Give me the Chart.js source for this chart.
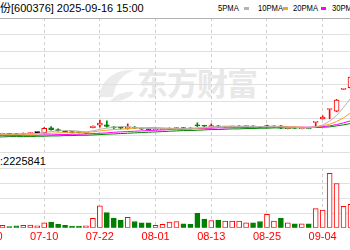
<!DOCTYPE html>
<html>
<head>
<meta charset="utf-8">
<script src="https://cdn.jsdelivr.net/npm/chart.js@4.4.0/dist/chart.umd.min.js"></script>
<style>
  html, body { margin: 0; padding: 0; width: 350px; height: 250px; overflow: hidden; background: #fff; }
  body { position: relative; font-family: "Liberation Sans", Arial, "Noto Sans CJK SC", sans-serif; }
  .txt { position: absolute; font-size: 11px; line-height: 13px; color: #000; white-space: nowrap; }
  .lg { position: absolute; top: 2px; font-size: 9px; line-height: 13px; color: #000; white-space: nowrap;
        transform: scaleX(0.85); transform-origin: 0 0; }
  .sw { position: absolute; top: 7px; width: 5px; height: 3px; }
  #wm { position: absolute; left: 137px; top: 59px; font: bold 31px "Noto Sans CJK SC"; color: #e8e8e8; white-space: nowrap; letter-spacing: -1px; }
  #logo { position: absolute; left: 96px; top: 66px; }
  #k { position: absolute; left: -15px; top: 0; }
  #v { position: absolute; left: -15px; top: 152px; }
</style>
</head>
<body>
<svg id="logo" width="40" height="36" viewBox="0 0 40 36">
  <path d="M3 31 C 5 13, 20 3, 38 4 C 26 9, 19 17, 17 31 Z" fill="#ebebeb"/>
  <path d="M14 35 C 22 27, 30 25, 38 26 C 34 32, 25 36, 14 35 Z" fill="#ebebeb"/>
</svg>
<div id="wm">东方财富</div>
<div class="txt" style="left:-33px;top:2px">首开股份[600376] 2025-09-16 15:00</div>
<div class="lg" style="left:218px">5PMA</div>
<div class="sw" style="left:244px;background:#b4b4b4"></div>
<div class="lg" style="left:258px">10PMA</div>
<div class="sw" style="left:283px;background:#f7a21b"></div>
<div class="lg" style="left:293px">20PMA</div>
<div class="sw" style="left:321px;background:#ff00ff"></div>
<div class="lg" style="left:332px">30PMA</div>
<div class="txt" style="left:-33px;top:155px">成交量:2225841</div>
<canvas id="k" width="369" height="153"></canvas>
<canvas id="v" width="369" height="95"></canvas>
<script>
// trading days shown (06-30 .. 09-10), one candle each
var days = ['06-30','07-01','07-02','07-03','07-04','07-07','07-08','07-09','07-10','07-11',
  '07-14','07-15','07-16','07-17','07-18','07-21','07-22','07-23','07-24','07-25',
  '07-28','07-29','07-30','07-31','08-01','08-04','08-05','08-06','08-07','08-08',
  '08-11','08-12','08-13','08-14','08-15','08-18','08-19','08-20','08-21','08-22',
  '08-25','08-26','08-27','08-28','08-29','09-01','09-02','09-03','09-04','09-05',
  '09-08','09-09','09-10'];

var openP = [2.12,2.14,2.13,2.15,2.14,2.13,2.15,2.18,2.18,2.32,
  2.27,2.23,2.20,2.19,2.16,2.33,2.40,2.41,2.35,2.33,
  2.29,2.34,2.31,2.29,2.27,2.27,2.28,2.30,2.32,2.31,
  2.41,2.39,2.35,2.37,2.34,2.35,2.35,2.36,2.37,2.36,
  2.35,2.35,2.38,2.30,2.33,2.30,2.32,2.485,2.59,2.87,
  2.82,3.47,3.52];
var highP = [2.15,2.16,2.16,2.16,2.15,2.17,2.18,2.19,2.33,2.36,
  2.29,2.24,2.21,2.20,2.19,2.38,2.55,2.53,2.36,2.34,
  2.44,2.36,2.32,2.30,2.30,2.29,2.32,2.33,2.33,2.32,
  2.47,2.40,2.44,2.39,2.37,2.37,2.38,2.38,2.38,2.37,
  2.40,2.38,2.39,2.33,2.34,2.33,2.33,2.49,2.68,2.88,
  3.17,3.49,3.84];
var lowP = [2.10,2.12,2.12,2.12,2.11,2.12,2.14,2.16,2.17,2.25,
  2.22,2.19,2.17,2.17,2.15,2.32,2.34,2.34,2.30,2.29,
  2.28,2.30,2.27,2.25,2.26,2.26,2.27,2.29,2.29,2.28,
  2.36,2.36,2.32,2.34,2.33,2.34,2.34,2.35,2.34,2.33,
  2.34,2.34,2.30,2.29,2.30,2.29,2.29,2.38,2.58,2.59,
  2.80,3.46,3.50];
var closeP = [2.14,2.13,2.15,2.13,2.12,2.16,2.17,2.18,2.31,2.27,
  2.23,2.20,2.18,2.18,2.18,2.37,2.46,2.36,2.32,2.31,
  2.35,2.31,2.28,2.27,2.29,2.28,2.31,2.32,2.30,2.29,
  2.38,2.37,2.39,2.35,2.36,2.36,2.37,2.37,2.35,2.34,
  2.39,2.37,2.31,2.32,2.31,2.32,2.30,2.49,2.64,2.88,
  3.15,3.49,3.84];

var ma5 = [2.13,2.13,2.14,2.14,2.14,2.14,2.15,2.15,2.19,2.21,
  2.23,2.24,2.24,2.22,2.20,2.23,2.28,2.31,2.34,2.36,
  2.36,2.33,2.31,2.30,2.30,2.29,2.29,2.29,2.30,2.30,
  2.32,2.33,2.35,2.36,2.37,2.37,2.36,2.36,2.36,2.36,
  2.36,2.36,2.35,2.34,2.34,2.32,2.31,2.35,2.41,2.52,
  2.69,2.93,3.20];
var ma10 = [2.12,2.12,2.12,2.12,2.12,2.13,2.13,2.14,2.15,2.16,
  2.17,2.18,2.19,2.19,2.19,2.20,2.23,2.25,2.27,2.28,
  2.30,2.31,2.32,2.33,2.33,2.32,2.31,2.30,2.30,2.30,
  2.31,2.32,2.33,2.34,2.35,2.35,2.35,2.36,2.36,2.36,
  2.36,2.36,2.36,2.35,2.35,2.34,2.33,2.35,2.38,2.43,
  2.51,2.62,2.77];
var ma20 = [2.09,2.09,2.09,2.09,2.09,2.10,2.10,2.10,2.11,2.11,
  2.12,2.12,2.13,2.13,2.14,2.15,2.16,2.17,2.19,2.20,
  2.21,2.22,2.23,2.24,2.25,2.26,2.27,2.28,2.28,2.29,
  2.30,2.30,2.31,2.32,2.32,2.33,2.33,2.33,2.34,2.34,
  2.34,2.35,2.35,2.35,2.34,2.34,2.34,2.35,2.36,2.38,
  2.42,2.47,2.53];
var ma30 = [2.05,2.05,2.05,2.06,2.06,2.06,2.06,2.07,2.07,2.08,
  2.08,2.09,2.09,2.10,2.10,2.11,2.12,2.13,2.14,2.15,
  2.16,2.17,2.18,2.19,2.20,2.21,2.22,2.23,2.24,2.24,
  2.25,2.26,2.27,2.27,2.28,2.29,2.29,2.30,2.30,2.31,
  2.31,2.32,2.32,2.32,2.32,2.33,2.33,2.33,2.34,2.35,
  2.38,2.41,2.45];

var volume = [150000,160000,166000,80000,123000,166000,185000,123000,326000,369000,
  228000,166000,105000,105000,123000,615000,1434000,985000,634000,511000,
  677000,412000,326000,326000,166000,228000,369000,412000,265000,228000,
  942000,572000,474000,511000,431000,431000,431000,326000,326000,412000,
  880000,431000,615000,326000,265000,265000,265000,1249000,1151000,3551000,
  2892000,1397000,1538000];

var priceTicks = [1.6,2.1,2.6,3.1,3.6,4.1,4.6,5.1,5.6];
var volTicks = [900000,1900000,2900000,3900000];

var RED = '#ff0000', GREEN = '#008000';

function dir(i) {
  if (closeP[i] > openP[i]) return 1;
  if (closeP[i] < openP[i]) return -1;
  return 0;
}

var bodies = [], wicks = [];
for (let i = 0; i < days.length; i++) {
  bodies.push([openP[i], closeP[i]]);
  wicks.push([lowP[i], highP[i]]);
}

var xGrid = function(c) { return c.index % 8 === 0 ? '#cfcfcf' : 'rgba(0,0,0,0)'; };

function maLine(data, color) {
  return { type: 'line', data: data, borderColor: color, borderWidth: 1,
           pointRadius: 0, tension: 0, order: 0 };
}

new Chart(document.getElementById('k'), {
  type: 'bar',
  data: {
    labels: days,
    datasets: [
      maLine(ma5, '#b4b4b4'),
      maLine(ma10, '#f7a21b'),
      maLine(ma20, '#ff00ff'),
      maLine(ma30, '#008000'),
      {
        data: bodies,
        backgroundColor: days.map((d, i) => dir(i) > 0 ? '#ffffff' : dir(i) < 0 ? GREEN : '#000'),
        borderColor: days.map((d, i) => dir(i) > 0 ? RED : dir(i) < 0 ? GREEN : '#000'),
        borderWidth: 1, borderSkipped: false, barThickness: 5, minBarLength: 1,
        grouped: false, order: 1
      },
      {
        data: wicks,
        backgroundColor: days.map((d, i) => dir(i) > 0 ? RED : dir(i) < 0 ? GREEN : '#000'),
        barThickness: 1, grouped: false, order: 2
      }
    ]
  },
  options: {
    responsive: false,
    animation: false,
    layout: { padding: { top: 18, bottom: 1, left: 0, right: 0 } },
    plugins: { legend: { display: false }, tooltip: { enabled: false } },
    scales: {
      x: {
        offset: true,
        grid: { offset: false, color: xGrid, drawTicks: false },
        border: { display: false, dash: [3, 3] },
        ticks: { display: false }
      },
      y: {
        min: 1.6, max: 5.6,
        afterBuildTicks: function(s) { s.ticks = priceTicks.map(v => ({ value: v })); },
        grid: { color: c => c.tick && c.tick.value === 5.6 ? '#b0b0b0' : '#e0e0e0', drawTicks: false },
        border: { display: false },
        ticks: { display: false }
      }
    }
  }
});

new Chart(document.getElementById('v'), {
  type: 'bar',
  data: {
    labels: days,
    datasets: [{
      data: volume,
      backgroundColor: days.map((d, i) => dir(i) < 0 ? GREEN : '#ffffff'),
      borderColor: days.map((d, i) => dir(i) < 0 ? GREEN : RED),
      borderWidth: 1, borderSkipped: false, barThickness: 5
    }]
  },
  options: {
    responsive: false,
    animation: false,
    layout: { padding: { top: 16, bottom: 0, left: 0, right: 0 } },
    plugins: { legend: { display: false }, tooltip: { enabled: false } },
    scales: {
      x: {
        offset: true,
        grid: { offset: false, color: xGrid, drawTicks: false },
        border: { display: false, dash: [3, 3] },
        ticks: {
          autoSkip: false, maxRotation: 0, minRotation: 0, padding: 3,
          color: RED, font: { family: 'Liberation Sans', size: 11 },
          callback: function(v, i) { return i % 8 === 0 ? days[i] : ''; }
        },
        afterFit: function(s) { s.paddingLeft = 0; s.paddingRight = 0; }
      },
      y: {
        min: 0, max: 3900000,
        afterBuildTicks: function(s) { s.ticks = volTicks.map(v => ({ value: v })); },
        grid: { color: '#e0e0e0', drawTicks: false },
        border: { display: false },
        ticks: { display: false }
      }
    }
  }
});
</script>
</body>
</html>
